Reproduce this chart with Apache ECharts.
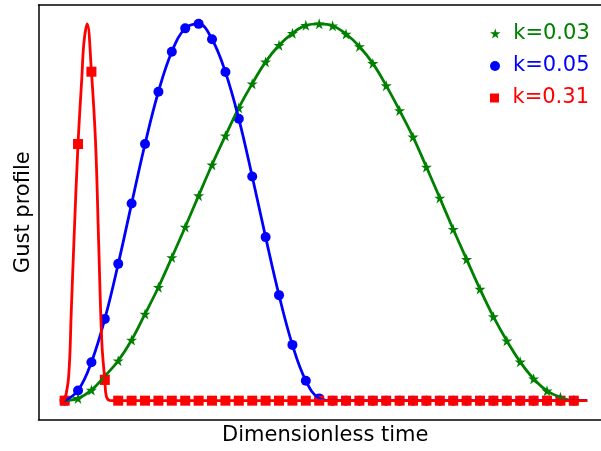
<!DOCTYPE html>
<html>
<head>
<meta charset="utf-8">
<script src="https://cdn.jsdelivr.net/npm/echarts@6/dist/echarts.min.js"></script>
<style>html,body{margin:0;padding:0;background:#fff;}#c{width:601px;height:451px;}</style>
</head>
<body>
<div id="c"></div>
<script>
// Marker sample times (dimensionless)
const tMarks = [0,1,2,3,4,5,6,7,8,9,10,11,12,13,14,15,16,17,18,19,20,21,22,23,24,25,26,27,28,29,30,31,32,33,34,35,36,37,38];
const tEnd = 39;
const seriesNames = ['k=0.03', 'k=0.05', 'k=0.31'];
// k=0.03 (green stars)
const greenVals = [0, 0.006, 0.028, 0.065, 0.106, 0.161, 0.230, 0.301, 0.380, 0.461, 0.544, 0.626, 0.703, 0.777, 0.841, 0.899, 0.943, 0.975, 0.996, 1.0, 0.995, 0.973, 0.940, 0.895, 0.836, 0.770, 0.700, 0.620, 0.538, 0.455, 0.375, 0.296, 0.223, 0.159, 0.103, 0.058, 0.026, 0.009, 0];
// k=0.05 (blue circles)
const blueVals = [0, 0.027, 0.102, 0.217, 0.363, 0.523, 0.681, 0.820, 0.926, 0.988, 1.0, 0.959, 0.872, 0.748, 0.595, 0.434, 0.280, 0.148, 0.053, 0.006, 0, 0, 0, 0, 0, 0, 0, 0, 0, 0, 0, 0, 0, 0, 0, 0, 0, 0, 0];
// k=0.31 (red squares)
const redVals = [0, 0.681, 0.873, 0.055, 0, 0, 0, 0, 0, 0, 0, 0, 0, 0, 0, 0, 0, 0, 0, 0, 0, 0, 0, 0, 0, 0, 0, 0, 0, 0, 0, 0, 0, 0, 0, 0, 0, 0, 0];
// red continuous curve
const redCurveT = [0, 0.3, 0.5, 0.69, 1, 1.29, 1.44, 1.68, 2, 2.31, 2.54, 2.78, 3, 3.12, 3.5, 4, 39];
const redCurveY = [0, 0.064, 0.241, 0.419, 0.681, 0.861, 0.950, 1.0, 0.873, 0.684, 0.419, 0.153, 0.055, 0.011, 0, 0, 0];

const colors = ['#008000', '#0000ff', '#ff0000'];
const starPath = 'path://M0,-1L0.2245,-0.309L0.951,-0.309L0.363,0.118L0.588,0.809L0,0.382L-0.588,0.809L-0.363,0.118L-0.951,-0.309L-0.2245,-0.309Z';
const squarePath = 'path://M0,0L1,0L1,1L0,1Z';

function pts(ts, vs) { return ts.map((t, i) => [t, vs[i]]); }
const greenLine = pts(tMarks, greenVals).concat([[tEnd, 0]]);
const blueLine = pts(tMarks, blueVals).concat([[tEnd, 0]]);
const redLine = pts(redCurveT, redCurveY);

const font = 'DejaVu Sans';
const fs = 21;

const chart = echarts.init(document.getElementById('c'), null, {renderer: 'canvas'});
function legendFor(i, icon, size, top) {
  return {
    show: true, left: 490, top: top, padding: 0, orient: 'vertical',
    itemWidth: 26, itemHeight: size, itemGap: 0, selectedMode: false,
    data: [{name: seriesNames[i], icon: icon, textStyle: {color: colors[i]}}],
    textStyle: {fontFamily: font, fontSize: fs, color: colors[i]}
  };
}
const lw = 2.8;
const spine = {show: true, onZero: false, lineStyle: {color: '#000', width: 1.5}};
chart.setOption({
  animation: false,
  backgroundColor: '#fff',
  grid: {left: 38.5, right: 0, top: 5, bottom: 31.5, show: false, outerBoundsMode: 'none'},
  legend: [
    legendFor(0, starPath, 10, 23),
    legendFor(1, 'circle', 10, 55.5),
    legendFor(2, squarePath, 9, 87.5)
  ],
  xAxis: [{
    type: 'value', min: -1.95, max: 40.03, position: 'bottom',
    name: 'Dimensionless time', nameLocation: 'middle', nameGap: 6,
    nameTextStyle: {fontFamily: font, fontSize: fs, color: '#000', padding: [0, 0, 0, 11]},
    axisLine: spine, axisTick: {show: false}, axisLabel: {show: false}, splitLine: {show: false}
  }, {
    type: 'value', min: -1.95, max: 40.03, position: 'top',
    axisLine: spine, axisTick: {show: false}, axisLabel: {show: false}, splitLine: {show: false}
  }],
  yAxis: {
    type: 'value', min: -0.05, max: 1.05, position: 'left',
    name: 'Gust profile', nameLocation: 'middle', nameGap: 4,
    nameTextStyle: {fontFamily: font, fontSize: fs, color: '#000'},
    axisLine: spine, axisTick: {show: false}, axisLabel: {show: false}, splitLine: {show: false}
  },
  series: [
    {type: 'line', data: greenLine, smooth: 0.4, showSymbol: false, lineStyle: {color: colors[0], width: lw}, silent: true},
    {type: 'scatter', name: seriesNames[0], data: pts(tMarks, greenVals), symbol: starPath, symbolSize: 11, itemStyle: {color: colors[0], opacity: 1}},
    {type: 'line', data: blueLine, smooth: 0.4, showSymbol: false, lineStyle: {color: colors[1], width: lw}, silent: true},
    {type: 'scatter', name: seriesNames[1], data: pts(tMarks, blueVals), symbol: 'circle', symbolSize: 10, itemStyle: {color: colors[1], opacity: 1}},
    {type: 'line', data: redLine, smooth: 0.4, showSymbol: false, lineStyle: {color: colors[2], width: lw}, silent: true},
    {type: 'scatter', name: seriesNames[2], data: pts(tMarks, redVals), symbol: 'rect', symbolSize: 10, itemStyle: {color: colors[2], opacity: 1}}
  ]
});
</script>
</body>
</html>
